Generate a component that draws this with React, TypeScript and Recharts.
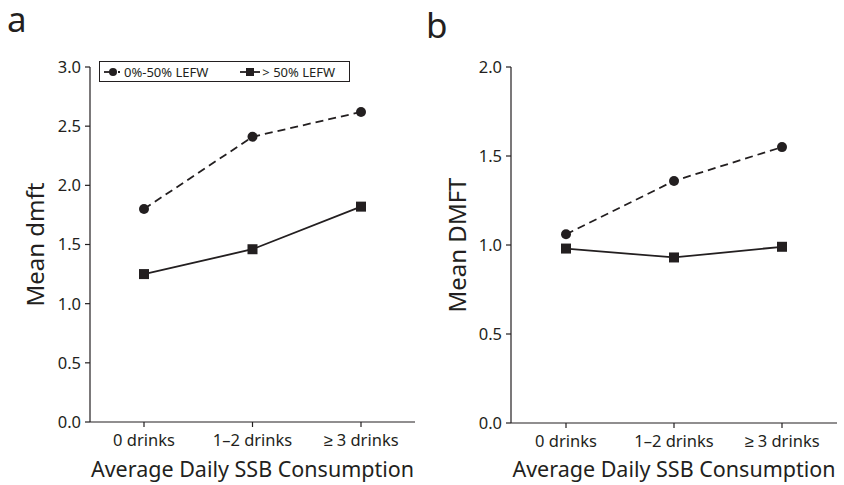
import { LineChart, Line, XAxis, YAxis, Legend } from "recharts";

const categories = ["0 drinks", "1–2 drinks", "≥ 3 drinks"];
const dmftLow = [1.8, 2.41, 2.62];
const dmftHigh = [1.25, 1.46, 1.82];
const DMFTLow = [1.06, 1.36, 1.55];
const DMFTHigh = [0.98, 0.93, 0.99];
const ticksA = [0, 0.5, 1, 1.5, 2, 2.5, 3];
const ticksB = [0, 0.5, 1, 1.5, 2];
const seriesNames = ["0%-50% LEFW", "> 50% LEFW"];

const INK = "#231f20";
const FONT = "'Noto Sans', sans-serif";

const dataA = categories.map((c, i) => ({ cat: c, low: dmftLow[i], high: dmftHigh[i] }));
const dataB = categories.map((c, i) => ({ cat: c, low: DMFTLow[i], high: DMFTHigh[i] }));

const CircleDot = (p: any) => <circle key={`c${p.index}`} cx={p.cx} cy={p.cy} r={5} fill={INK} />;
const SquareDot = (p: any) => (
  <rect key={`s${p.index}`} x={p.cx - 5} y={p.cy - 5} width={10} height={10} fill={INK} />
);

const LegendBox = () => (
  <div
    style={{
      border: `1px solid ${INK}`,
      display: "flex",
      alignItems: "center",
      height: 21,
      fontFamily: FONT,
      fontSize: 13,
      color: INK,
      padding: "0 4px",
      boxSizing: "border-box",
      background: "#fff",
      whiteSpace: "nowrap",
    }}
  >
    <svg width={18} height={12}>
      <line x1={0} y1={6} x2={12} y2={6} stroke={INK} strokeWidth={1.8} />
      <line x1={14} y1={6} x2={16} y2={6} stroke={INK} strokeWidth={1.8} />
      <circle cx={9} cy={6} r={4} fill={INK} />
    </svg>
    <span style={{ marginLeft: 2 }}>{seriesNames[0]}</span>
    <svg width={20} height={12} style={{ marginLeft: 32 }}>
      <line x1={0} y1={6} x2={20} y2={6} stroke={INK} strokeWidth={1.8} />
      <rect x={6} y={2} width={8} height={8} fill={INK} />
    </svg>
    <span style={{ marginLeft: 2 }}>{seriesNames[1]}</span>
  </div>
);

type PanelProps = {
  data: any[];
  ticks: number[];
  max: number;
  width: number;
  yWidth: number;
  right: number;
  bottom: number;
  yLabel: string;
  labelOffset: number;
  padL: number;
  padR: number;
  legend?: boolean;
};

const tickStyle = { fill: INK, fontSize: 16.5, fontFamily: FONT };

function Panel(p: PanelProps) {
  return (
    <LineChart
      width={p.width}
      height={485}
      data={p.data}
      margin={{ top: 67, right: p.right, bottom: 0, left: 0 }}
    >
      <XAxis
        dataKey="cat"
        height={p.bottom}
        padding={{ left: p.padL, right: p.padR }}
        tick={tickStyle}
        tickSize={5}
        tickMargin={7}
        stroke={INK}
        strokeWidth={1.2}
        label={{
          value: "Average Daily SSB Consumption",
          position: "insideBottom",
          offset: 8,
          fill: INK,
          fontSize: 21.5,
          fontFamily: FONT,
        }}
      />
      <YAxis
        width={p.yWidth}
        domain={[0, p.max]}
        ticks={p.ticks}
        tickFormatter={(v: number) => v.toFixed(1)}
        tick={tickStyle}
        tickSize={5}
        tickMargin={4}
        stroke={INK}
        strokeWidth={1.2}
        label={{
          value: p.yLabel,
          angle: -90,
          position: "insideLeft",
          offset: p.labelOffset,
          style: { textAnchor: "middle" },
          fill: INK,
          fontSize: 24,
          fontFamily: FONT,
        }}
      />
      {p.legend && (
        <Legend
          verticalAlign="middle"
          layout="horizontal"
          content={<LegendBox />}
          wrapperStyle={{ top: 61, left: 99, width: 251, height: 21 }}
        />
      )}
      <Line
        dataKey="low"
        stroke={INK}
        strokeWidth={1.8}
        strokeDasharray="8 5"
        dot={CircleDot}
        activeDot={false}
        isAnimationActive={false}
      />
      <Line
        dataKey="high"
        stroke={INK}
        strokeWidth={1.8}
        dot={SquareDot}
        activeDot={false}
        isAnimationActive={false}
      />
    </LineChart>
  );
}

export default function App() {
  return (
    <div style={{ position: "absolute", left: 0, top: 0, width: 844, height: 485, background: "#fff" }}>
      <svg width={844} height={485} style={{ position: "absolute", left: 0, top: 0 }}>
        <text x={7} y={32} fontSize={35} fontFamily={FONT} fill={INK}>a</text>
        <text x={426} y={38} fontSize={35} fontFamily={FONT} fill={INK}>b</text>
      </svg>
      <div style={{ position: "absolute", left: 0, top: 0 }}>
        <Panel
          data={dataA}
          ticks={ticksA}
          max={3}
          width={420}
          yWidth={90}
          right={5}
          bottom={63}
          yLabel="Mean dmft"
          labelOffset={35}
          padL={54}
          padR={54}
          legend
        />
      </div>
      <div style={{ position: "absolute", left: 420, top: 0 }}>
        <Panel
          data={dataB}
          ticks={ticksB}
          max={2}
          width={424}
          yWidth={91}
          right={7}
          bottom={62}
          yLabel="Mean DMFT"
          labelOffset={37}
          padL={55}
          padR={55}
        />
      </div>
    </div>
  );
}
